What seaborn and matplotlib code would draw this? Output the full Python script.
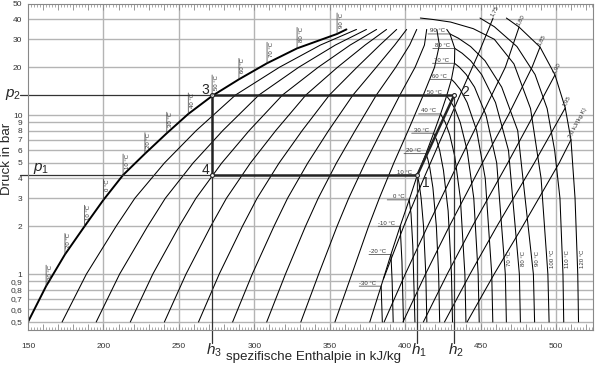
import numpy as np
import pandas as pd
import seaborn as sns
import matplotlib.pyplot as plt
from matplotlib.ticker import FixedLocator, MultipleLocator, NullLocator, NullFormatter, FuncFormatter

# --- axis layout values ---
H_GRID = [150, 200, 250, 300, 350, 400, 450, 500]
P_GRID = [0.5, 0.6, 0.7, 0.8, 0.9, 1, 2, 3, 4, 5, 6, 7, 8, 9, 10, 20, 30, 40, 50]
P_LABELS = ["0,5", "0,6", "0,7", "0,8", "0,9", "1", "2", "3", "4", "5", "6", "7", "8", "9",
            "10", "20", "30", "40", "50"]

# --- saturation data ---
SAT_T = [-30, -20, -10, 0, 10, 20, 30, 40, 50, 60, 70, 80, 90]
SAT_P = [0.84, 1.33, 2.0, 2.93, 4.2, 5.72, 7.7, 10.17, 13.2, 16.8, 21.2, 26.3, 32.4]
SAT_HL = [162, 174.5, 187.5, 200, 213, 227.5, 242, 256.2, 272, 289.8, 308.4, 328.3, 354.8]
SAT_HV = [384.0, 390.5, 396.6, 402.6, 408.0, 413.7, 418.8, 423.4, 427.4, 430.6, 432.6, 432.8, 429.6]
LIQ_END = [(150, 0.5), (361, 34.6)]
VAP_END = [(376.5, 0.5), (427.5, 34.6)]

# --- lines of constant vapour quality x = 0.1 ... 0.9 ---
QUAL_P = [0.5, 1, 2, 3, 5, 8, 13.4, 20, 27.6, 34.6]
QUAL_H = [
    [172.6, 188.7, 208.4, 220.8, 240.4, 261.5, 287.6, 316.6, 343.8, 367.7],
    [195.2, 210.7, 229.3, 241.0, 259.4, 279.1, 303.1, 329.4, 353.7, 374.3],
    [217.8, 232.7, 250.2, 261.3, 278.4, 296.6, 318.7, 342.3, 363.5, 381.0],
    [240.4, 254.7, 271.1, 281.5, 297.4, 314.2, 334.2, 355.1, 373.4, 387.6],
    [263.0, 276.7, 292.1, 301.8, 316.4, 331.7, 349.8, 368.0, 383.2, 394.3],
    [285.6, 298.6, 313.0, 322.0, 335.4, 349.2, 365.4, 380.8, 393.0, 400.9],
    [308.2, 320.6, 333.9, 342.3, 354.4, 366.8, 380.9, 393.7, 402.9, 407.6],
    [330.8, 342.6, 354.8, 362.5, 373.4, 384.3, 396.5, 406.5, 412.7, 414.2],
    [353.4, 364.6, 375.7, 382.8, 392.4, 401.9, 412.0, 419.4, 422.6, 420.9],
]

# --- isotherms in the superheated region: (h, p) ---
ISOTHERMS = {
    -30: [(384.0, 0.84), (384.8, 0.5)],
    -20: [(390.5, 1.33), (391.3, 0.9), (392.0, 0.5)],
    -10: [(396.6, 2.0), (397.8, 1.2), (398.8, 0.5)],
    0: [(402.6, 2.93), (403.8, 2.4), (405.0, 1.5), (406.4, 0.5)],
    10: [(408.0, 4.2), (409.2, 3.7), (410.5, 3.0), (412.1, 2.0), (413.6, 1.0), (414.3, 0.5)],
    20: [(413.7, 5.72), (414.9, 5.3), (416.2, 4.7), (418.3, 3.5), (420.6, 2.0), (422.1, 1.0), (422.8, 0.5)],
    30: [(418.8, 7.7), (420.7, 7.0), (422.8, 6.0), (425.3, 4.5), (428.4, 2.5), (430.6, 1.0), (431.3, 0.5)],
    40: [(423.4, 10.17), (426.5, 9.0), (429.5, 7.5), (432.8, 5.5), (436.5, 3.0), (439.5, 1.0), (440.2, 0.5)],
    50: [(427.4, 13.2), (429.8, 12.3), (432.8, 11.0), (436.4, 9.0), (441.0, 6.0), (445.4, 3.0),
         (448.3, 1.0), (449.0, 0.5)],
    60: [(430.6, 16.8), (432.8, 16.0), (436.4, 14.5), (441.0, 12.0), (447.3, 8.0), (453.0, 4.0),
         (457.3, 1.0), (458.0, 0.5)],
    70: [(432.6, 21.2), (435.9, 20.0), (440.4, 18.0), (445.9, 15.0), (453.5, 10.0), (460.6, 5.0),
         (466.3, 1.0), (467.0, 0.5)],
    80: [(432.8, 26.3), (437.7, 24.5), (443.3, 22.0), (450.6, 18.0), (459.8, 12.0), (468.4, 6.0),
         (475.6, 1.0), (476.3, 0.5)],
    90: [(429.6, 32.4), (435.1, 30.5), (443.3, 27.0), (452.8, 22.0), (463.9, 15.0), (474.5, 8.0),
         (484.9, 1.0), (485.7, 0.5)],
    100: [(410.0, 40.8), (418.0, 40.0), (430.0, 38.5), (445.0, 35.0), (459.0, 30.0), (472.0, 21.0),
          (483.0, 11.0), (490.0, 4.0), (494.5, 1.0), (495.3, 0.5)],
    110: [(449.5, 40.8), (459.0, 36.0), (474.0, 27.0), (486.0, 18.0), (494.0, 11.0), (499.0, 6.0),
          (502.5, 3.0), (504.5, 1.0), (505.0, 0.5)],
    120: [(467.0, 40.8), (475.4, 35.8), (489.3, 26.8), (499.2, 17.9), (506.0, 11.1), (509.8, 7.0),
          (512.5, 3.0), (514.3, 1.0), (514.8, 0.5)],
}
ISO_LABEL_T = [70, 80, 90, 100, 110, 120]
ISO_LABEL_H = [466.6, 475.9, 485.2, 494.8, 504.6, 514.5]

# --- isentropes, s in kJ/(kg K): (h, p) ---
ENTROPY = {
    "1,75": [(385.5, 0.93), (399.0, 2.0), (413.0, 4.15), (436.0, 13.2), (449.0, 25.0), (458.2, 40.8)],
    "1,80": [(386.0, 0.5), (400.0, 1.0), (414.8, 2.0), (435.1, 5.0), (450.8, 10.0), (466.3, 20.0), (475.4, 35.8)],
    "1,85": [(398.5, 0.5), (413.4, 1.0), (429.2, 2.0), (451.1, 5.0), (468.3, 10.0), (484.0, 20.0), (489.3, 26.8)],
    "1,90": [(412.0, 0.5), (427.8, 1.0), (444.5, 2.0), (467.9, 5.0), (485.0, 10.0), (499.2, 17.9)],
    "1,95": [(426.0, 0.5), (442.9, 1.0), (460.7, 2.0), (485.5, 5.0), (506.0, 11.1)],
    "2,0 kJ/(kg K)": [(441.0, 0.5), (458.9, 1.0), (477.8, 2.0), (502.0, 5.0), (509.8, 7.0)],
}

# --- refrigeration cycle ---
H1, H2, H3 = 408.0, 432.5, 272.0
P1, P2 = 4.2, 13.4

sns.set_style("white")
plt.rcParams["font.family"] = ["Liberation Sans", "DejaVu Sans"]
plt.rcParams["mathtext.fontset"] = "custom"
plt.rcParams["mathtext.it"] = "Liberation Sans:italic"
plt.rcParams["mathtext.rm"] = "Liberation Sans"

# long table of thin curves
rows = []
for i, hs in enumerate(QUAL_H):
    for h, p in zip(hs, QUAL_P):
        rows.append((f"x{i}", h, p))
vap = [VAP_END[0]] + list(zip(SAT_HV, SAT_P)) + [VAP_END[1]]
for h, p in vap:
    rows.append(("vap", h, p))
for t, pts in ISOTHERMS.items():
    for h, p in pts:
        rows.append((f"T{t}", h, p))
for s, pts in ENTROPY.items():
    for h, p in pts:
        rows.append((f"s{s}", h, p))
thin = pd.DataFrame(rows, columns=["curve", "h", "p"])

liq = pd.DataFrame([LIQ_END[0]] + list(zip(SAT_HL, SAT_P)) + [LIQ_END[1]], columns=["h", "p"])

fig = plt.figure(figsize=(5.95, 3.66), dpi=100)
ax = fig.add_axes([28 / 595, 1 - 330 / 366, 565 / 595, 326 / 366])
ax.set_yscale("log")
ax.set_xlim(150, 524.4)
ax.set_ylim(0.445, 50)

grid_c = "#b4b4b4"
for h in H_GRID[1:]:
    ax.axvline(h, color=grid_c, lw=1.0, zorder=0)
for p in P_GRID[:-1]:
    ax.axhline(p, color=grid_c, lw=1.0, zorder=0)

sns.lineplot(data=thin, x="h", y="p", units="curve", estimator=None, sort=False,
             color="black", lw=0.75, ax=ax)
sns.lineplot(data=liq, x="h", y="p", estimator=None, sort=False, color="black", lw=1.4, ax=ax)

small = 4.3
# temperature marks on the liquid line
for t, h, p in zip(SAT_T, SAT_HL, SAT_P):
    ax.annotate("", xy=(h, p), xytext=(0, 21), textcoords="offset pixels",
                arrowprops=dict(arrowstyle="-", lw=0.5, color="#333", shrinkA=0, shrinkB=0))
    ax.annotate(f"{t} °C", xy=(h, p), xytext=(1.5, 21), textcoords="offset pixels",
                rotation=90, ha="left", va="top", fontsize=small, color="#333")

# temperature marks on the vapour line
for t, h, p in zip(SAT_T, SAT_HV, SAT_P):
    ax.annotate("", xy=(h, p), xytext=(-22, 0), textcoords="offset pixels",
                arrowprops=dict(arrowstyle="-", lw=0.5, color="#333", shrinkA=0, shrinkB=0))
    ax.annotate(f"{t} °C", xy=(h, p), xytext=(-5, 0.5), textcoords="offset pixels",
                ha="right", va="bottom", fontsize=small, color="#333")

for t, h in zip(ISO_LABEL_T, ISO_LABEL_H):
    ax.annotate(f"{t} °C", xy=(h, 1.25), xytext=(1.5, 0), textcoords="offset pixels",
                rotation=90, ha="left", va="center", fontsize=small, color="#333")

for s, pts in ENTROPY.items():
    h, p = pts[-1]
    ax.annotate(s, xy=(h, p), xytext=(1, 1), textcoords="offset pixels",
                rotation=62, ha="left", va="bottom", fontsize=small, color="#333",
                rotation_mode="anchor")

# cycle
cyc = dict(color="#222", lw=1.8, solid_capstyle="butt")
ax.plot([H3, H2], [P2, P2], **cyc)
ax.plot([H3, H1], [P1, P1], **cyc)
ax.plot([H3, H3], [P1, P2], **cyc)
ax.plot([H1, H2], [P1, P2], **cyc)
ref = dict(color="#333", lw=0.9, clip_on=False)
ax.plot([144.7, H3], [P2, P2], **ref)
ax.plot([144.7, H3], [P1, P1], **ref)
ax.plot([H3, H3], [P1, 0.37], **ref)
ax.plot([H1, H1], [P1, 0.37], **ref)
ax.plot([H2, H2], [P2, 0.37], **ref)
ax.plot([H1, H2, H3, H3], [P1, P2, P2, P1], "o", ms=2.8, mfc="white", mec="#222", mew=0.8)

for lab, h, p, dx, dy in [("1", H1, P1, 5, -8), ("2", H2, P2, 7, 3), ("3", H3, P2, -3, 5), ("4", H3, P1, -3, 5)]:
    ax.annotate(lab, xy=(h, p), xytext=(dx, dy), textcoords="offset pixels",
                ha="left" if dx > 0 else "right", va="center", fontsize=10)

xt = ax.get_xaxis_transform()
for lab, h in [("$h_3$", H3), ("$h_1$", H1), ("$h_2$", H2)]:
    ax.annotate(lab, xy=(h, 0), xycoords=xt, xytext=(2, -20), textcoords="offset pixels",
                ha="center", va="center", fontsize=11, annotation_clip=False)
yt = ax.get_yaxis_transform()
ax.annotate("$p_2$", xy=(0, P2), xycoords=yt, xytext=(-15, 0), textcoords="offset pixels",
            ha="center", va="center", fontsize=11, annotation_clip=False)
ax.annotate("$p_1$", xy=(0, P1), xycoords=yt, xytext=(13, 7), textcoords="offset pixels",
            ha="center", va="center", fontsize=11)

# ticks
ax.xaxis.set_major_locator(MultipleLocator(10))
ax.xaxis.set_minor_locator(MultipleLocator(2))
ax.xaxis.set_major_formatter(FuncFormatter(lambda v, _: f"{v:.0f}" if round(v) % 50 == 0 else ""))
ax.tick_params(axis="x", which="both", direction="in", top=True, bottom=True,
               color="#888", labelcolor="#333", labelsize=6, pad=9)
ax.tick_params(axis="x", which="major", length=4, width=0.6)
ax.tick_params(axis="x", which="minor", length=2, width=0.5)
ax.yaxis.set_major_locator(FixedLocator(P_GRID))
ax.yaxis.set_minor_locator(NullLocator())
ax.yaxis.set_minor_formatter(NullFormatter())
ax.set_yticklabels(P_LABELS)
ax.tick_params(axis="y", length=0, labelsize=6, labelcolor="#333", pad=4)
for sp in ax.spines.values():
    sp.set_color("#888")
    sp.set_linewidth(0.8)
ax.set_xlabel("")
ax.set_ylabel("")

fig.text(313 / 595, 1 - 357 / 366, "spezifische Enthalpie in kJ/kg", ha="center", va="center", fontsize=9.6)
fig.text(7 / 595, 1 - 159 / 366, "Druck in bar", rotation=90, ha="center", va="center", fontsize=9.6)

fig.savefig("out.png", dpi=100)
